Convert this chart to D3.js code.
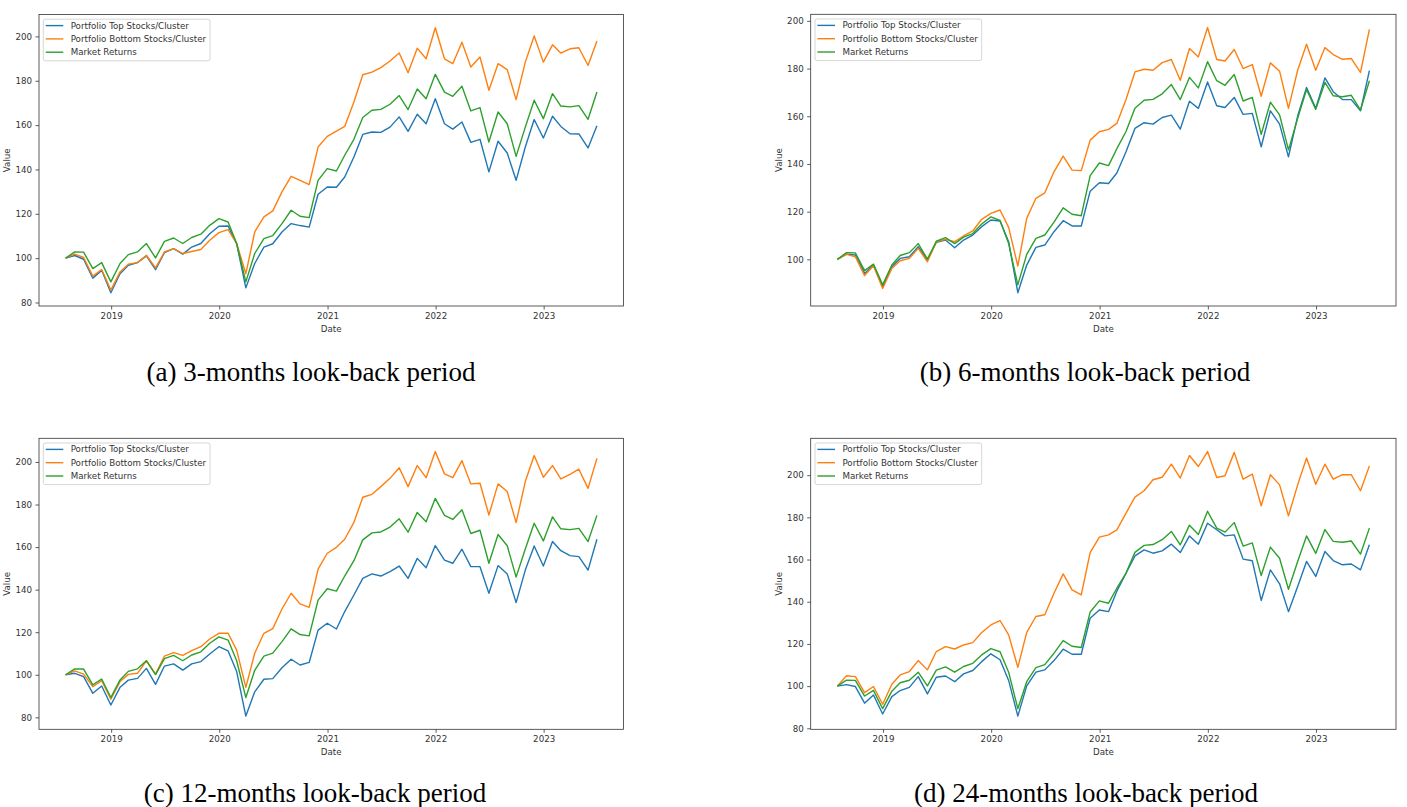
<!DOCTYPE html>
<html>
  <head>
    <title>Look-back period comparison</title>
    <meta charset="UTF-8" />
    <style>
      body { margin: 0; background: #fff; }
    </style>
  </head>
  <body>
    <script src="https://cdn.jsdelivr.net/npm/d3@7/dist/d3.min.js" charset="utf-8"></script>
    <script>
      // month labels, one point per month end
      var months = [
        "2018-07","2018-08","2018-09","2018-10","2018-11","2018-12",
        "2019-01","2019-02","2019-03","2019-04","2019-05","2019-06",
        "2019-07","2019-08","2019-09","2019-10","2019-11","2019-12",
        "2020-01","2020-02","2020-03","2020-04","2020-05","2020-06",
        "2020-07","2020-08","2020-09","2020-10","2020-11","2020-12",
        "2021-01","2021-02","2021-03","2021-04","2021-05","2021-06",
        "2021-07","2021-08","2021-09","2021-10","2021-11","2021-12",
        "2022-01","2022-02","2022-03","2022-04","2022-05","2022-06",
        "2022-07","2022-08","2022-09","2022-10","2022-11","2022-12",
        "2023-01","2023-02","2023-03","2023-04","2023-05","2023-06"
      ];
      var seriesNames = ["Portfolio Top Stocks/Cluster", "Portfolio Bottom Stocks/Cluster", "Market Returns"];
      var yearTicks = ["2019", "2020", "2021", "2022", "2023"];
      var captions = ["(a) 3-months look-back period", "(b) 6-months look-back period",
                      "(c) 12-months look-back period", "(d) 24-months look-back period"];

      var market = [100, 102.8, 102.7, 95.3, 98, 89.3, 97.6, 101.6, 102.8, 106.6,
        100.1, 107.6, 109.1, 106.6, 109.3, 110.8, 114.8, 117.8, 116.3, 106.6,
        89.3, 102.1, 108.8, 110.2, 115.6, 121.6, 118.9, 118.3, 135.1, 140.4,
        139.3, 146.4, 153.6, 163.4, 166.7, 167.1, 169.4, 173.3, 167, 176.3,
        171.9, 182.9, 174.9, 173, 177.5, 166.4, 167.9, 152.4, 165.9, 160.6,
        145.9, 159.1, 171.2, 162.9, 174.2, 168.6, 168.2, 168.8, 162.6, 174.9];

      var top3 = [100, 101.2, 99.5, 91, 94.5, 84.4, 93, 96.8, 98, 101,
        94.8, 102.5, 104.3, 101.8, 105, 106.6, 111, 114.4, 114.5, 106.5,
        86.6, 97.6, 105, 106.5, 111.8, 115.6, 114.7, 114, 128.8, 132.1,
        132, 136.6, 145.6, 155.8, 156.9, 156.7, 159.1, 163.7, 157.2, 164.9,
        160.6, 171.9, 160.6, 158.2, 161.4, 152.2, 153.6, 138.9, 152.7, 147.4,
        135.1, 150.1, 162.5, 154.2, 164, 159.4, 156.1, 156, 149.7, 159.7];
      var bottom3 = [100, 101.8, 100.3, 91.9, 94.9, 85.6, 93.8, 97.3, 98, 101.3,
        95.6, 102.8, 104.3, 102.1, 103, 103.9, 108.1, 111.5, 112.9, 106.6,
        93, 111.8, 118.6, 121.3, 129.9, 136.9, 135.1, 133.2, 150.1, 154.9,
        157.3, 159.4, 170.4, 182.7, 183.9, 185.9, 188.9, 192.5, 183.6, 194.7,
        189.9, 203.9, 189.9, 187.7, 197.4, 186.2, 190.7, 175.7, 187.7, 185,
        171.5, 188.4, 200.2, 188.4, 196.2, 192.5, 194.4, 194.9, 186.9, 197.9];

      var top6 = [100, 102.2, 101.8, 94.1, 97.6, 88.5, 96.9, 100.4, 101.1, 105.3,
        99.7, 107.1, 108.1, 104.9, 108.1, 110.2, 113.7, 116.5, 116.1, 107.4,
        86, 97.6, 105, 106, 111.6, 116.2, 114, 114, 128.6, 132.1,
        131.8, 136.2, 145.1, 154.9, 157.3, 156.7, 159.5, 160.5, 154.6, 166.3,
        163.3, 174.4, 164.4, 163.7, 167.9, 160.8, 161.2, 147.2, 162.3, 156.7,
        143, 160.1, 172.1, 163.3, 176.1, 170.3, 167, 167, 162.3, 179.1];
      var bottom6 = [100, 102.1, 101.1, 93.2, 97.3, 87.8, 96.2, 99.4, 100.4, 104.6,
        99, 107.4, 108.4, 107.4, 109.8, 111.9, 116.8, 119.3, 120.7, 113.4,
        97.2, 117.2, 125.6, 127.9, 136.7, 143.3, 137.4, 137.2, 150, 153.5,
        154.5, 157, 167, 178.6, 179.7, 179.3, 182.5, 183.8, 175.1, 188.4,
        184.9, 197.2, 183.8, 183.2, 188, 180, 181.7, 168.4, 182.4, 178.9,
        163.3, 179.3, 190.2, 179.3, 188.8, 185.9, 183.9, 184.2, 178.4, 196.4];

      var top12 = [100, 100.7, 99.1, 91.3, 94.7, 85.8, 94.1, 97.5, 98.3, 103,
        95.5, 104.1, 105.1, 102.2, 105.1, 106.2, 109.8, 113.2, 111.2, 101.5,
        80.6, 92, 97.9, 98.2, 103.3, 107.3, 104.6, 105.8, 121, 124.2,
        121.5, 129.7, 137.5, 145.3, 147.4, 146.4, 148.5, 151.1, 145.3, 154.7,
        150.3, 160.7, 153.9, 152.4, 159, 150.8, 150.8, 138.3, 151.3, 147.4,
        133.9, 149.2, 160.5, 151.1, 162.6, 158.3, 156, 155.5, 149.2, 163.7];
      var bottom12 = [100, 101.8, 100.3, 94.4, 97.2, 88.5, 96.8, 100.2, 100.7, 106.6,
        100.3, 108.8, 110.4, 109.1, 111.3, 113.2, 116.8, 119.5, 119.5, 111.6,
        94.1, 110.1, 119.5, 121.7, 130.9, 138.3, 133.3, 131.7, 149.6, 157.1,
        159.9, 163.7, 171.6, 183.4, 184.8, 188.4, 192.3, 197.3, 188.4, 198.3,
        192.6, 204.9, 194.4, 192.6, 200.6, 189.7, 190, 175.1, 189.7, 186.1,
        171.5, 190.8, 203, 192.8, 198.3, 192, 194.2, 196.6, 187.6, 201.7];

      var top24 = [100, 100.7, 99.8, 91.9, 95.8, 86.8, 95, 97.9, 99.4, 104.5,
        96.3, 104.2, 104.8, 102.1, 105.8, 107.4, 111.6, 115.3, 112.5, 102.7,
        85.8, 100.1, 106.6, 107.7, 112.1, 117.5, 115.1, 115.1, 132.2, 136.1,
        135.3, 145, 153.5, 161.7, 164.6, 163, 164.1, 167.3, 163.3, 171.2,
        167.3, 177.2, 174.1, 171.2, 171.7, 160.2, 159.4, 140.6, 155.1, 148.5,
        135.3, 147.2, 159.1, 152, 163.8, 159.5, 157.5, 157.9, 155.1, 167];
      var bottom24 = [100, 104.9, 104.5, 96.9, 99.8, 91.4, 100.9, 105.3, 106.9, 112.1,
        107.7, 116.4, 118.7, 117.6, 119.5, 120.6, 125.4, 129, 131.1, 124.3,
        108.9, 125.5, 133, 133.8, 144, 153.2, 145.6, 143.2, 163.3, 170.6,
        171.7, 174.1, 182, 189.6, 192.6, 197.8, 199, 205.2, 198.6, 209.3,
        204.1, 211.2, 198.9, 199.7, 210.8, 198.1, 200.5, 185.5, 200.2, 195.4,
        180.7, 195.4, 208.1, 195.7, 205.2, 198.1, 200.2, 200.2, 192.6, 204.4];

      var colors = ["#1f77b4", "#ff7f0e", "#2ca02c"];

      // plot boxes in page pixels, caption centre and baseline
      var panels = [
        { left: 39,    top: 14.5,  width: 584.5, height: 291.5, capX: 311,  capY: 381,   series: [top3, bottom3, market] },
        { left: 810.7, top: 14.3,  width: 585.3, height: 291.7, capX: 1085, capY: 381,   series: [top6, bottom6, market] },
        { left: 39,    top: 438.3, width: 584.5, height: 291,   capX: 315,  capY: 801.5, series: [top12, bottom12, market] },
        { left: 810.7, top: 438.3, width: 585.3, height: 291,   capX: 1086, capY: 801.5, series: [top24, bottom24, market] }
      ];

      var parseMonth = d3.timeParse("%Y-%m");
      var dates = months.map(function(m) {
        return d3.timeDay.offset(d3.timeMonth.offset(parseMonth(m), 1), -1);
      });
      var tickDates = yearTicks.map(function(y) { return d3.timeParse("%Y")(y); });

      var svg = d3.select("body")
        .append("svg")
        .attr("width", 1407)
        .attr("height", 807)
        .style("font-family", "'DejaVu Sans', sans-serif");

      var fontSize = 8.7;

      panels.forEach(function(p, k) {
        var g = svg.append("g").attr("transform", "translate(" + p.left + "," + p.top + ")");

        // matplotlib style 5% margins
        var t0 = dates[0].getTime(), t1 = dates[dates.length - 1].getTime();
        var tm = (t1 - t0) * 0.05;
        var x = d3.scaleTime()
          .domain([new Date(t0 - tm), new Date(t1 + tm)])
          .range([0, p.width]);

        var all = d3.merge(p.series);
        var lo = d3.min(all), hi = d3.max(all), m = (hi - lo) * 0.05;
        var y = d3.scaleLinear()
          .domain([lo - m, hi + m])
          .range([p.height, 0]);

        var yt = d3.range(0, 300, 20).filter(function(v) { return v >= lo - m && v <= hi + m; });

        var xAxis = g.append("g")
          .attr("transform", "translate(0," + p.height + ")")
          .call(d3.axisBottom(x).tickValues(tickDates).tickFormat(d3.timeFormat("%Y"))
                .tickSize(3.5).tickPadding(3.5));
        var yAxis = g.append("g")
          .call(d3.axisLeft(y).tickValues(yt).tickFormat(d3.format("d"))
                .tickSize(3.5).tickPadding(3.5));

        [xAxis, yAxis].forEach(function(a) {
          a.select(".domain").remove();
          a.selectAll("line").attr("stroke", "#333").attr("stroke-width", 0.8);
          a.selectAll("text").attr("fill", "#333").style("font-size", fontSize + "px")
            .style("font-family", "'DejaVu Sans', sans-serif");
        });

        var line = d3.line()
          .x(function(d, i) { return x(dates[i]); })
          .y(function(d) { return y(d); });

        p.series.forEach(function(s, j) {
          g.append("path")
            .datum(s)
            .attr("fill", "none")
            .attr("stroke", colors[j])
            .attr("stroke-width", 1.4)
            .attr("stroke-linejoin", "round")
            .attr("d", line);
        });

        g.append("rect")
          .attr("width", p.width)
          .attr("height", p.height)
          .attr("fill", "none")
          .attr("stroke", "#333")
          .attr("stroke-width", 0.8);

        g.append("text")
          .attr("x", p.width / 2)
          .attr("y", p.height + 26)
          .attr("text-anchor", "middle")
          .attr("fill", "#333")
          .style("font-size", fontSize + "px")
          .text("Date");

        g.append("text")
          .attr("transform", "translate(-29," + (p.height / 2) + ") rotate(-90)")
          .attr("text-anchor", "middle")
          .attr("fill", "#333")
          .style("font-size", fontSize + "px")
          .text("Value");

        // legend
        var lg = g.append("g").attr("transform", "translate(4.3,4.7)");
        lg.append("rect")
          .attr("width", 166.7)
          .attr("height", 41.6)
          .attr("rx", 2)
          .attr("fill", "#fff")
          .attr("fill-opacity", 0.8)
          .attr("stroke", "#ccc")
          .attr("stroke-width", 0.8);
        seriesNames.forEach(function(name, j) {
          var ry = 6.4 + j * 13.3;
          lg.append("line")
            .attr("x1", 2.4).attr("x2", 20)
            .attr("y1", ry).attr("y2", ry)
            .attr("stroke", colors[j])
            .attr("stroke-width", 1.4);
          lg.append("text")
            .attr("x", 27.4)
            .attr("y", ry)
            .attr("dy", "0.35em")
            .attr("fill", "#333")
            .style("font-size", fontSize + "px")
            .text(name);
        });

        svg.append("text")
          .attr("x", p.capX)
          .attr("y", p.capY)
          .attr("text-anchor", "middle")
          .attr("fill", "#000")
          .style("font-family", "'Liberation Serif', 'Times New Roman', serif")
          .style("font-size", "27px")
          .text(captions[k]);
      });
    </script>
  </body>
</html>
